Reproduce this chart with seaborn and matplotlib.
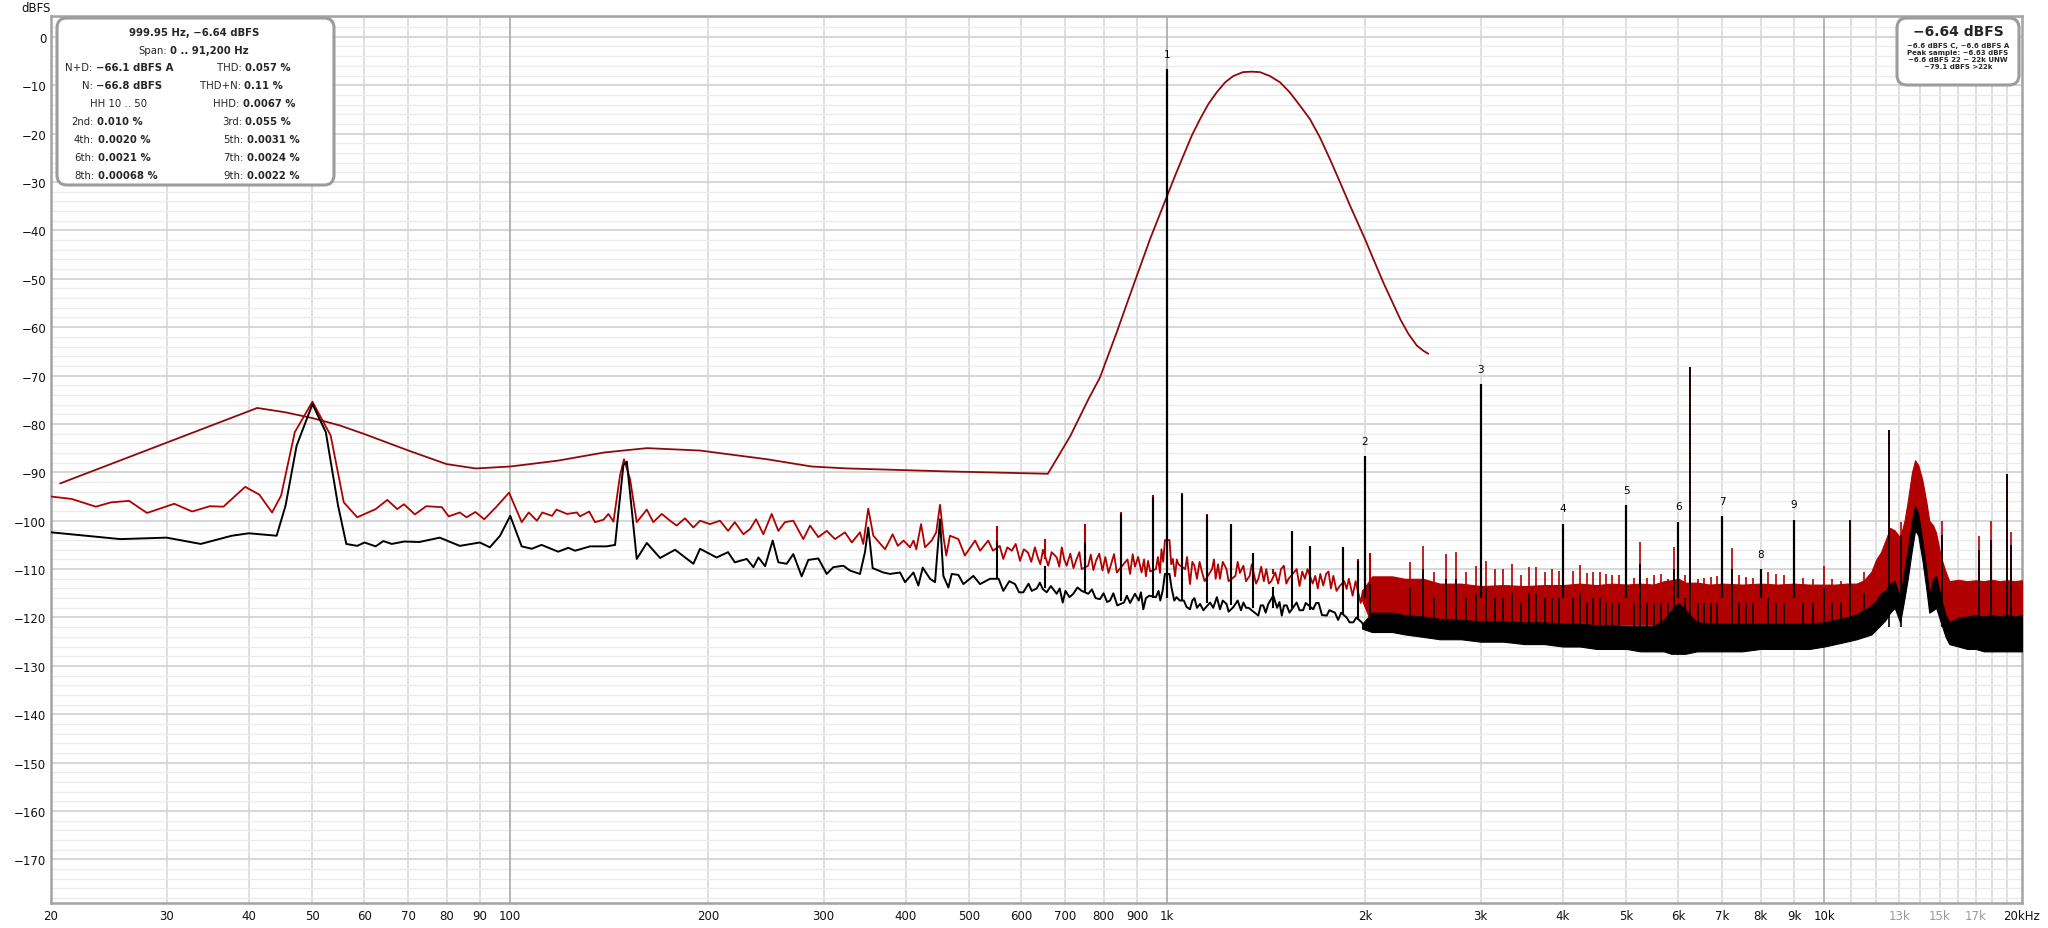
import numpy as np
import pandas as pd
import matplotlib
matplotlib.use("Agg")
import matplotlib.pyplot as plt
from matplotlib.patches import FancyBboxPatch
from matplotlib.ticker import NullLocator, NullFormatter
import seaborn as sns

# ── data ──────────────────────────────────────────────────────
# black trace floor (20 Hz .. 2 kHz); harmonics and spurs are drawn separately
black_freq = [20, 25.5, 30, 33.8, 37.7, 40, 44.1, 45.5, 47.3, 50,
              52.4, 54.7, 56.3, 58.5, 60, 62.4, 64.1, 66, 69, 72.7,
              78.1, 83.8, 89.9, 93.1, 96.5, 100, 104.1, 107.8, 111.6, 118.3,
              122.6, 125.5, 132.3, 140.2, 144.4, 146.1, 148.7, 150.5, 151.8, 155.8,
              161.4, 169.1, 178.2, 190, 194.5, 206.1, 214.6, 219.7, 229.1, 234.5,
              238.7, 244.3, 250.9, 255.9, 263.5, 269.7, 277.7, 284.3, 294.4, 303.2,
              310.3, 321.4, 328.9, 340.7, 346.7, 350.7, 356.2, 369.7, 378.5, 392,
              399, 410.9, 418, 424.5, 435.5, 443.2, 446.8, 451, 456.3, 464.4,
              469.9, 481, 489.5, 506.9, 518.9, 537.4, 546.9, 553.9, 563, 575,
              586.6, 595, 603.9, 615, 622, 633, 640, 646.4, 655.5, 665,
              678.8, 686, 693.3, 700, 710, 719.5, 730, 741, 758.3, 768,
              778, 790, 800, 810, 818.4, 828, 839.5, 859.4, 868, 878,
              893, 905, 912, 919.6, 928, 939, 961, 970, 976, 984,
              992, 1008, 1015, 1025, 1033, 1045, 1060, 1070, 1083, 1092,
              1100, 1110, 1122, 1135, 1162, 1175, 1190, 1203, 1215, 1231,
              1240, 1260, 1280, 1295, 1306, 1318, 1330, 1376, 1388, 1400,
              1412, 1425, 1450, 1470, 1482, 1494, 1506, 1520, 1535, 1574,
              1590, 1610, 1625, 1668, 1685, 1700, 1720, 1749, 1765, 1800,
              1820, 1840, 1875, 1895, 1920, 1940, 1977, 2000, 2035, 2060,
              2083]
black_db = [-102.4, -103.8, -103.5, -104.8, -103.1, -102.6, -103.1, -96.9, -84.5, -75.9,
            -81.7, -96.9, -104.8, -105.2, -104.5, -105.3, -104.2, -104.8, -104.3, -104.4,
            -103.5, -105.2, -104.5, -105.5, -103.1, -99.0, -105.3, -105.8, -105.0, -106.4,
            -105.6, -106.2, -105.3, -105.3, -105.0, -98.3, -88.5, -87.8, -92.8, -107.9,
            -104.6, -107.7, -106.0, -108.9, -105.8, -107.6, -106.5, -108.6, -107.9, -109.6,
            -107.6, -109.4, -104.1, -108.6, -108.9, -106.9, -111.5, -108.1, -107.8, -111.0,
            -109.6, -109.3, -110.3, -111.0, -106.5, -101.4, -109.8, -110.7, -111.0, -110.7,
            -112.7, -110.7, -113.4, -109.7, -112.0, -112.7, -106.6, -99.7, -111.4, -113.8,
            -111.0, -111.2, -113.1, -111.4, -113.1, -112.0, -112.0, -112.0, -114.5, -112.5,
            -113.1, -114.8, -114.8, -113.0, -114.5, -114.0, -112.8, -114.1, -114.8, -113.5,
            -115.1, -114.0, -116.9, -114.5, -115.8, -115.1, -113.8, -114.5, -115.1, -114.2,
            -116.0, -116.2, -115.0, -116.8, -116.5, -115.0, -117.5, -116.9, -115.5, -117.0,
            -115.1, -116.5, -114.8, -118.3, -116.0, -115.5, -115.8, -114.5, -116.5, -114.5,
            -111.0, -111.0, -113.8, -116.5, -115.8, -116.5, -116.5, -117.8, -118.3, -116.5,
            -116.0, -118.0, -117.2, -118.5, -116.9, -118.0, -115.8, -118.3, -116.5, -117.2,
            -118.8, -117.9, -116.5, -118.5, -116.9, -118.0, -118.0, -119.6, -117.5, -117.5,
            -119.0, -117.2, -115.5, -118.0, -116.8, -119.6, -117.5, -117.5, -119.0, -116.9,
            -118.5, -118.5, -117.0, -118.3, -117.0, -117.0, -119.5, -119.6, -118.5, -119.0,
            -120.5, -119.0, -120.0, -121.0, -121.0, -120.0, -121.0, -122.0, -121.5, -123.0,
            -122.7]

# red trace floor (20 Hz .. 2 kHz)
red_freq = [20, 21.5, 23.4, 24.7, 26.3, 28.0, 30.8, 32.8, 34.9, 36.6,
            39.5, 41.5, 43.4, 44.8, 47.0, 50, 53.3, 55.8, 58.5, 62.4,
            65.0, 67.3, 68.9, 71.6, 74.5, 78.7, 80.6, 83.8, 85.8, 88.5,
            91.3, 95.0, 99.6, 104.1, 106.7, 109.8, 111.9, 115.8, 117.6, 122.0,
            126.3, 127.7, 131.9, 134.6, 138.6, 141.1, 143.6, 146.9, 149.0, 152.2,
            155.8, 161.4, 165.1, 170.1, 175.1, 179.2, 184.5, 190, 194.5, 201.4,
            208.6, 214.6, 219.7, 226.4, 231.8, 236.7, 242.8, 250.0, 255.9, 261.9,
            269.7, 279.3, 286, 294.4, 303.2, 312.1, 323.2, 331.1, 340.7, 344.6,
            350.7, 357, 372, 382, 389, 397, 406, 411, 415, 422,
            428, 438, 445, 451, 457, 461, 467, 481, 492, 510,
            519, 534, 543, 556, 563, 571, 580, 588, 597, 605,
            614, 621, 629, 635, 641, 647, 659, 667, 679, 685,
            691, 697, 703, 712, 720, 728, 735, 741, 758, 765,
            772, 779, 788, 797, 805, 814, 823, 830, 838, 870,
            878, 886, 893, 903, 914, 922, 928, 935, 942, 961,
            968, 975, 980, 986, 992, 1008, 1014, 1020, 1028, 1034,
            1040, 1065, 1072, 1083, 1092, 1100, 1110, 1120, 1130, 1140,
            1170, 1178, 1185, 1195, 1203, 1215, 1231, 1240, 1270, 1280,
            1290, 1306, 1318, 1335, 1345, 1365, 1376, 1390, 1403, 1415,
            1428, 1440, 1460, 1475, 1490, 1505, 1518, 1530, 1574, 1590,
            1605, 1620, 1635, 1665, 1680, 1695, 1710, 1728, 1745, 1760,
            1775, 1790, 1810, 1830, 1860, 1875, 1890, 1915, 1935, 1970,
            1985, 2015, 2035, 2060, 2083]
red_db = [-95.0, -95.5, -97.1, -96.2, -95.9, -98.4, -96.5, -98.1, -97.0, -97.1,
          -93.0, -94.6, -98.3, -94.8, -81.7, -75.4, -82.4, -96.2, -99.3, -97.6,
          -95.7, -97.6, -96.6, -98.7, -97.0, -97.2, -99.1, -98.3, -99.3, -98.2,
          -99.7, -97.3, -94.2, -100.3, -98.3, -100.0, -98.3, -99.0, -97.7, -98.6,
          -98.3, -99.1, -98.1, -100.3, -99.8, -98.6, -100.2, -90.7, -87.3, -91.4,
          -100.3, -97.7, -100.3, -98.6, -100.0, -101.0, -99.5, -101.4, -100.0, -100.7,
          -100.0, -102.1, -100.3, -102.8, -101.7, -99.7, -102.8, -98.6, -102.1, -100.3,
          -100.0, -103.8, -101.0, -103.4, -102.1, -103.8, -102.4, -104.5, -102.4, -104.8,
          -97.5, -103.1, -105.9, -102.8, -105.2, -104.1, -105.5, -104.1, -105.9, -100.7,
          -105.5, -104.1, -102.4, -96.7, -103.8, -107.2, -103.1, -103.8, -107.2, -104.1,
          -106.2, -104.1, -106.2, -105.2, -107.9, -105.5, -106.2, -104.8, -108.3, -105.9,
          -106.6, -108.5, -105.5, -107.5, -109.0, -106.0, -109.3, -106.5, -107.6, -109.5,
          -105.5, -108.0, -109.3, -106.8, -109.8, -107.9, -106.5, -110.0, -109.3, -107.0,
          -110.2, -108.3, -106.8, -110.3, -107.5, -110.8, -108.6, -106.9, -110.7, -108.0,
          -111.0, -106.9, -109.5, -107.5, -110.7, -108.0, -111.5, -108.3, -110.5, -110.0,
          -107.5, -110.8, -105.9, -108.5, -104.0, -104.0, -109.0, -107.9, -111.5, -108.0,
          -109.0, -110.0, -107.5, -113.1, -108.5, -109.3, -112.0, -108.5, -110.7, -112.5,
          -110.0, -108.0, -112.0, -109.0, -112.0, -108.5, -110.0, -112.5, -111.4, -108.5,
          -110.8, -109.3, -112.5, -111.4, -109.0, -113.0, -112.0, -109.5, -112.5, -110.0,
          -113.0, -112.5, -110.7, -113.0, -110.0, -109.3, -113.0, -112.0, -110.0, -113.5,
          -110.5, -112.0, -110.0, -113.0, -111.4, -114.0, -111.0, -113.4, -111.0, -110.5,
          -114.0, -111.4, -114.5, -113.5, -112.5, -114.1, -112.0, -115.5, -112.5, -117.0,
          -114.5, -116.5, -115.0, -117.5, -116.9]

# smoothed dark red curve
smooth_freq = [20.65, 41.2, 45.5, 50, 55, 60, 70, 80, 88.6, 100,
               118, 139, 161.5, 194.5, 246, 287.6, 326, 459.8, 658, 684.6,
               712.6, 758.6, 790, 837.6, 888, 941.6, 1000, 1028, 1058, 1090,
               1122, 1155, 1189, 1225, 1261, 1304, 1344, 1384, 1433, 1485,
               1537, 1592, 1649, 1708, 1769, 1833, 1898, 2000, 2059, 2133,
               2262, 2329, 2398, 2455, 2497]
smooth_db = [-92.3, -76.7, -77.6, -78.8, -80.3, -82.1, -85.5, -88.3, -89.2, -88.8,
             -87.6, -85.9, -85.0, -85.5, -87.3, -88.8, -89.2, -89.8, -90.3, -86.4,
             -82.4, -74.9, -70.4, -61.1, -51.4, -41.8, -32.8, -28.7, -24.6, -20.4,
             -17.0, -13.9, -11.5, -9.4, -8.1, -7.3, -7.2, -7.3, -8.1, -9.4,
             -11.5, -14.2, -17.0, -20.8, -25.3, -30.1, -34.9, -41.8, -45.9, -50.8,
             -58.3, -61.4, -63.8, -64.9, -65.5]

# dense noise above 2 kHz: band edges of both traces
band_freq = [1980, 2050, 2200, 2300, 2450, 2600, 2800, 3000, 3250, 3500, 3750,
             4000, 4250, 4500, 4750, 5000, 5250, 5500, 5700, 5850, 6000,
             6150, 6400, 6700, 7000, 7500, 8000, 8500, 9000, 9500, 10000,
             10400, 10800, 11200, 11500, 11800, 12000, 12200, 12400, 12600, 12800,
             13050, 13250, 13400, 13600, 13750, 13900, 14100, 14300, 14450, 14650,
             14800, 15050, 15300, 15500, 16000, 16500, 17000, 17500, 18000, 18500,
             19000, 19500, 20000]
red_hi = [-114.5, -111.5, -111.5, -112.0, -112.0, -113.0, -113.0, -113.5, -113.3, -113.5, -113.3,
          -113.3, -113.0, -113.3, -113.0, -113.2, -113.0, -113.2, -112.5, -112.3, -112.0,
          -112.8, -112.8, -113.2, -113.0, -113.2, -113.0, -113.2, -113.0, -113.2, -113.2,
          -113.2, -113.0, -113.0, -112.3, -110.5, -108.0, -106.5, -104.0, -101.5, -102.0,
          -103.5, -100.0, -96.0, -90.0, -87.5, -88.5, -91.5, -96.0, -100.0, -101.0,
          -102.5, -107.5, -110.5, -112.5, -112.2, -112.5, -112.3, -112.5, -112.2, -112.5,
          -112.3, -112.5, -112.3]
red_lo = [-116.5, -121.5, -121.5, -121.5, -121.5, -121.5, -121.5, -121.5, -121.5, -121.5, -121.5,
          -121.5, -121.5, -121.5, -121.5, -121.5, -121.5, -121.5, -121.5, -121.5, -121.5,
          -121.5, -121.5, -121.5, -121.5, -121.5, -121.5, -121.5, -121.5, -121.5, -121.5,
          -121.5, -121.5, -121.5, -121.5, -120.0, -119.0, -118.0, -116.0, -114.0, -113.0,
          -116.5, -111.0, -107.0, -101.0, -99.0, -99.5, -104.0, -110.5, -116.0, -113.0,
          -112.5, -117.0, -120.0, -121.5, -121.5, -121.5, -121.5, -121.5, -121.5, -121.5,
          -121.5, -121.5, -121.5]
black_hi = [-121.3, -119.0, -119.0, -119.5, -119.8, -120.3, -120.5, -120.8, -120.8, -121.0, -121.0,
            -121.3, -121.3, -121.6, -121.6, -121.8, -121.8, -121.8, -120.5, -118.5, -117.0,
            -118.5, -121.0, -121.2, -121.3, -121.3, -121.3, -121.3, -121.3, -121.2, -121.0,
            -120.5, -120.0, -119.3, -118.5, -117.5, -116.5, -115.0, -114.5, -113.0, -112.5,
            -116.0, -110.0, -106.0, -100.0, -97.0, -98.5, -104.0, -110.0, -115.5, -112.0,
            -111.5, -116.0, -119.5, -121.0, -120.0, -119.8, -119.5, -119.8, -119.5, -119.8,
            -119.5, -119.8, -119.5]
black_lo = [-122.3, -123.0, -123.0, -123.5, -124.0, -124.5, -124.5, -125.0, -125.0, -125.5, -125.5,
            -126.0, -126.0, -126.5, -126.5, -126.5, -127.0, -127.0, -127.0, -127.5, -127.5,
            -127.5, -127.0, -127.0, -127.0, -127.0, -126.5, -126.5, -126.5, -126.5, -126.0,
            -125.5, -125.0, -124.5, -124.0, -123.5, -122.5, -121.5, -120.5, -119.0, -118.0,
            -121.0, -116.0, -112.0, -106.0, -102.0, -103.0, -108.0, -114.0, -119.0, -118.5,
            -118.0, -121.0, -124.0, -125.5, -126.0, -126.5, -126.5, -127.0, -127.0, -127.0,
            -127.0, -127.0, -127.0]

# spurs between 500 Hz and 2 kHz (top and local floor)
mid_spur_freq = [550, 651, 750, 850, 950, 1052, 1151, 1250, 1352, 1450, 1550, 1649, 1849, 1953, 2035]
mid_red_top = [-101.0, -103.8, -100.7, -98.1, -94.7, -94.2, -98.6, -100.7, -106.6, -110.0,
               -102.1, -105.2, -105.5, -107.9, -106.6]
mid_red_base = [-105, -108, -109, -109.5, -109, -109, -110, -110.5, -111, -111,
                -110, -112, -113, -115, -115]
mid_black_top = [-104.1, -109.3, -104.5, -98.6, -95.2, -94.5, -98.9, -100.7, -106.6, -113.8,
                 -102.1, -105.2, -105.5, -108.3, -113.0]
mid_black_base = [-112, -114, -115, -116.5, -116, -116.5, -117, -117.5, -118, -118,
                  -118, -118.5, -119.5, -120.5, -121]

# spurs above 2 kHz
spur_freq = [2344, 2448, 2550, 2653, 2750, 2851, 2947, 3051, 3155, 3248,
             3353, 3452, 3553, 3648, 3754, 3854, 3950, 4141, 4245, 4351,
             4446, 4550, 4657, 4752, 4871, 5126, 5252, 5368, 5508, 5647,
             5780, 5898, 6141, 6250, 6415, 6556, 6719, 6866, 7234, 7413,
             7612, 7800, 8206, 8446, 8694, 9283, 9624, 9990, 10271, 10617,
             10960, 11477, 12568, 13071, 15136, 17172, 17950, 18981, 19253]
spur_red_top = [-108.6, -105.2, -110.7, -106.9, -106.4, -110.7, -109.4, -108.4, -110.0, -110.0,
                -108.9, -111.3, -109.6, -109.5, -110.7, -110.0, -110.3, -110.3, -109.1, -110.9,
                -110.5, -110.7, -111.0, -111.3, -111.2, -111.9, -104.5, -111.9, -111.3, -111.0,
                -112.0, -105.5, -111.3, -68.3, -112.0, -111.9, -111.7, -111.5, -105.7, -111.3,
                -111.7, -111.9, -110.7, -111.0, -111.3, -111.9, -112.0, -109.3, -112.0, -112.4,
                -99.8, -110.7, -81.2, -100.3, -100.0, -103.2, -100.1, -90.4, -102.4]
spur_black_top = [-114, -110, -116, -112, -112, -116, -115, -114, -116, -116,
                  -115, -117, -115, -115, -116, -116, -116, -116, -115, -117,
                  -116, -116, -117, -117, -117, -117, -109, -117, -117, -117,
                  -117, -110, -116, -68.3, -117, -117, -117, -117, -110, -117,
                  -117, -117, -116, -117, -117, -117, -117, -114, -117, -117,
                  -99.8, -115, -81.2, -103, -103, -106, -104, -90.4, -105]

# fundamental and harmonics
harm_freq = [1000, 2000, 3000, 4000, 5000, 6000, 7000, 8000, 9000]
harm_db = [-6.64, -86.6, -71.8, -100.6, -96.8, -100.2, -99.0, -110.0, -99.8]
harm_label = ['1', '2', '3', '4', '5', '6', '7', '8', '9']

# axis ticks
x_ticks = [20, 30, 40, 50, 60, 70, 80, 90, 100, 200, 300, 400, 500, 600, 700, 800, 900,
           1000, 2000, 3000, 4000, 5000, 6000, 7000, 8000, 9000, 10000, 13000, 15000, 17000, 20000]
x_tick_text = ['20', '30', '40', '50', '60', '70', '80', '90', '100', '200', '300', '400', '500',
               '600', '700', '800', '900', '1k', '2k', '3k', '4k', '5k', '6k', '7k', '8k', '9k',
               '10k', '13k', '15k', '17k', '20kHz']
x_tick_grey = ['13k', '15k', '17k']
y_ticks = [0, -10, -20, -30, -40, -50, -60, -70, -80, -90, -100, -110, -120, -130, -140,
           -150, -160, -170]

# readout boxes
head_line = "999.95 Hz, −6.64 dBFS"
span_label, span_value = "Span:", "0 .. 91,200 Hz"
left_labels = ["N+D:", "N:", "HH 10 .. 50", "2nd:", "4th:", "6th:", "8th:"]
left_values = ["−66.1 dBFS A", "−66.8 dBFS", "", "0.010 %", "0.0020 %", "0.0021 %", "0.00068 %"]
right_labels = ["THD:", "THD+N:", "HHD:", "3rd:", "5th:", "7th:", "9th:"]
right_values = ["0.057 %", "0.11 %", "0.0067 %", "0.055 %", "0.0031 %", "0.0024 %", "0.0022 %"]
level_title = "−6.64 dBFS"
level_lines = ["−6.6 dBFS C, −6.6 dBFS A", "Peak sample: −6.63 dBFS",
               "−6.6 dBFS 22 − 22k UNW", "−79.1 dBFS >22k"]

assert len(black_freq) == len(black_db)
assert len(red_freq) == len(red_db)
assert len(smooth_freq) == len(smooth_db)
assert len(band_freq) == len(red_hi) == len(red_lo) == len(black_hi) == len(black_lo)
assert len(spur_freq) == len(spur_red_top) == len(spur_black_top)

# ── styling / layout ─────────────────────────────────────────
W, H = 2048, 929
BLACK = '#000000'
RED = '#b10000'
DARKRED = '#8e0a0a'

sns.set_theme(style="white")
plt.rcParams['font.family'] = ['DejaVu Sans']

fig = plt.figure(figsize=(W / 100, H / 100), dpi=100)
fig.patch.set_facecolor('white')
L, R, T, B = 51, 2022, 17, 904
ax = fig.add_axes([L / W, 1 - B / H, (R - L) / W, (B - T) / H])
ax.set_xscale('log')

# grid
ax.set_axisbelow(True)
light_grid = [m * d for d in (10, 100, 1000) for m in range(2, 10) if m * d > 20] \
    + list(range(11000, 20000, 1000))
for g in light_grid:
    ax.axvline(g, color='#d6d6d6', lw=1.1, zorder=0.5)
for g in (100, 1000, 10000):
    ax.axvline(g, color='#a9a9a9', lw=1.2, zorder=0.6)
ax.set_yticks(np.arange(-178, 5, 2), minor=True)
ax.grid(True, which='minor', axis='y', color='#ebebeb', lw=1.0)
ax.grid(True, which='major', axis='y', color='#d3d3d3', lw=1.3)
ax.grid(False, axis='x')

# smoothed curve
sns.lineplot(x=smooth_freq, y=smooth_db, ax=ax, color=DARKRED, lw=1.3,
             estimator=None, sort=False, zorder=2)

# red spectrum
ax.fill_between(band_freq, red_lo, red_hi, color=RED, lw=0.8, zorder=3)
sns.lineplot(x=red_freq, y=red_db, ax=ax, color=RED, lw=1.3, estimator=None, sort=False, zorder=3)
ax.vlines(mid_spur_freq, mid_red_base, mid_red_top, color=RED, lw=1.5, zorder=3)
ax.vlines(spur_freq, -116, spur_red_top, color=RED, lw=1.2, zorder=3)
ax.vlines(harm_freq, -116, harm_db, color=RED, lw=1.3, zorder=3)

# black spectrum
ax.fill_between(band_freq, black_lo, black_hi, color=BLACK, lw=0.8, zorder=4)
sns.lineplot(x=black_freq, y=black_db, ax=ax, color=BLACK, lw=1.4, estimator=None, sort=False, zorder=4)
ax.vlines(mid_spur_freq, mid_black_base, mid_black_top, color=BLACK, lw=1.5, zorder=4)
ax.vlines(spur_freq, -122, spur_black_top, color=BLACK, lw=1.2, zorder=4)
ax.vlines(harm_freq, -116, harm_db, color=BLACK, lw=1.6, zorder=4)

for f, d, s in zip(harm_freq, harm_db, harm_label):
    ax.annotate(s, (f, d), xytext=(0, 11), textcoords='offset points',
                ha='center', va='center', fontsize=7.5, color='black', zorder=6)

ax.set_xlim(20, 20000)
ax.set_ylim(-179, 4.3)
ax.set_xlabel('')
ax.set_ylabel('')

ax.set_xticks(x_ticks, x_tick_text)
ax.xaxis.set_minor_locator(NullLocator())
ax.xaxis.set_minor_formatter(NullFormatter())
ax.set_yticks(y_ticks, [str(v).replace('-', '−') for v in y_ticks])
ax.tick_params(axis='both', which='both', length=0, labelsize=8.5, colors='#111111')
ax.tick_params(axis='x', pad=4)
ax.tick_params(axis='y', pad=3.5)
for lab in ax.get_xticklabels():
    if lab.get_text() in x_tick_grey:
        lab.set_color('#9a9a9a')
for sp in ax.spines.values():
    sp.set_color('#a3a3a3')
    sp.set_linewidth(1.8)

# ── overlay in pixel coordinates for the readout boxes ───────
ov = fig.add_axes([0, 0, 1, 1], zorder=10)
ov.set_xlim(0, W)
ov.set_ylim(H, 0)
ov.axis('off')
ov.patch.set_alpha(0)

ov.text(21, 8, "dBFS", ha='left', va='center', fontsize=8.5, color='#111111')

FS = 7.3
ov.add_patch(FancyBboxPatch((57, 19), 277, 167, boxstyle="round,pad=0,rounding_size=10",
                            fc='white', ec='#9c9c9c', lw=2.2))
ov.text(194.5, 33, head_line, ha='center', va='center', fontsize=FS, weight='bold')
t = ov.text(138, 51, span_label, ha='left', va='center', fontsize=FS)
ov.annotate(span_value, xy=(1, 0.5), xycoords=t, xytext=(2.5, 0), textcoords='offset points',
            ha='left', va='center', fontsize=FS, weight='bold')

left_x = [65, 82, 90, 71, 74, 74, 74]
right_x = [217, 200, 213, 222, 223, 223, 223]
for i in range(len(left_labels)):
    y = 68 + 18 * i
    for xs, labs, vals in ((left_x, left_labels, left_values), (right_x, right_labels, right_values)):
        t = ov.text(xs[i], y, labs[i], ha='left', va='center', fontsize=FS)
        if vals[i]:
            ov.annotate(vals[i], xy=(1, 0.5), xycoords=t, xytext=(2.5, 0),
                        textcoords='offset points', ha='left', va='center',
                        fontsize=FS, weight='bold')

ov.add_patch(FancyBboxPatch((1897, 19), 122, 67, boxstyle="round,pad=0,rounding_size=10",
                            fc='white', ec='#9c9c9c', lw=2.2))
ov.text(1958, 32, level_title, ha='center', va='center', fontsize=10, weight='bold')
for i, s in enumerate(level_lines):
    ov.text(1958, 45.5 + 7.3 * i, s, ha='center', va='center', fontsize=5.0, weight='bold')

fig.savefig("out.png", dpi=100, facecolor='white')
